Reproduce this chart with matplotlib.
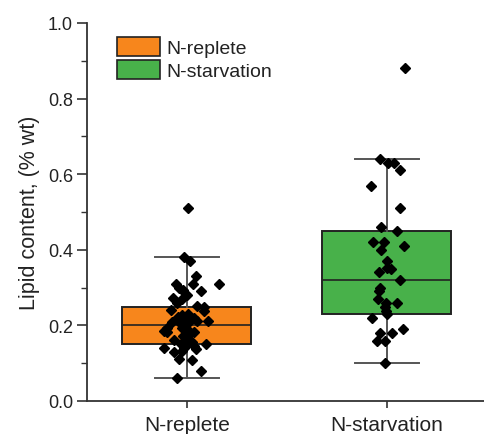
import numpy as np
import matplotlib.pyplot as plt
from matplotlib.patches import Patch

plt.rcParams['font.family'] = ['Liberation Sans', 'DejaVu Sans']

categories = ['N-replete', 'N-starvation']
box_colors = ['#f7861c', '#48b14a']

# box statistics
q1 = [0.15, 0.23]
median = [0.20, 0.32]
q3 = [0.25, 0.45]
whisk_lo = [0.06, 0.10]
whisk_hi = [0.38, 0.64]

# individual measurements (value, horizontal jitter in category units)
replete_vals = [0.51, 0.38, 0.37, 0.33, 0.31, 0.31, 0.31, 0.30, 0.29, 0.29,
                0.294, 0.272, 0.28, 0.26, 0.27, 0.252, 0.25, 0.239, 0.24, 0.228,
                0.23, 0.222, 0.219, 0.211, 0.21, 0.21, 0.211, 0.205, 0.208, 0.192,
                0.186, 0.182, 0.192, 0.19, 0.182, 0.173, 0.177, 0.161, 0.162, 0.157,
                0.151, 0.151, 0.146, 0.145, 0.139, 0.13, 0.133, 0.138, 0.139, 0.111,
                0.109, 0.08, 0.06]
replete_jit = [0.005, -0.016, 0.016, 0.043, -0.056, 0.032, 0.159, -0.04, -0.02, 0.07,
               -0.018, -0.07, 0.0, -0.048, -0.023, 0.052, 0.083, 0.083, -0.078, -0.023,
               0.005, -0.045, 0.035, 0.048, -0.075, 0.01, 0.107, -0.032, -0.01, -0.098,
               -0.115, -0.098, -0.023, 0.0, 0.035, -0.022, 0.01, -0.065, 0.0, 0.025,
               0.093, -0.032, -0.01, 0.035, -0.115, -0.065, -0.023, 0.043, -0.015, -0.04,
               0.025, 0.068, -0.048]

starv_vals = [0.88, 0.64, 0.63, 0.63, 0.61, 0.57, 0.51, 0.46, 0.45, 0.42,
              0.42, 0.41, 0.40, 0.37, 0.352, 0.349, 0.34, 0.32, 0.30, 0.29,
              0.27, 0.26, 0.26, 0.25, 0.239, 0.229, 0.22, 0.19, 0.18, 0.18,
              0.16, 0.16, 0.10]
starv_jit = [0.092, -0.037, 0.003, 0.037, 0.067, -0.082, 0.063, -0.03, 0.052, -0.068,
             -0.013, 0.085, -0.028, -0.002, -0.002, 0.02, -0.04, 0.063, -0.033, -0.04,
             -0.043, -0.007, 0.05, -0.01, -0.007, 0.002, -0.073, 0.082, -0.037, 0.027,
             -0.048, -0.012, -0.008]

points = [replete_vals, starv_vals]
jitters = [replete_jit, starv_jit]

fig = plt.figure(figsize=(4.85, 4.35), dpi=100)
ax = fig.add_axes([87 / 485, 33 / 435, 400 / 485, 378 / 435])

stats = []
for i in range(len(categories)):
    stats.append({'q1': q1[i], 'med': median[i], 'q3': q3[i],
                  'whislo': whisk_lo[i], 'whishi': whisk_hi[i], 'fliers': []})

bp = ax.bxp(stats, positions=[0, 1], widths=0.645, capwidths=0.32,
            patch_artist=True, manage_ticks=False,
            boxprops=dict(edgecolor='#222222', linewidth=1.4),
            medianprops=dict(color='#222222', linewidth=1.2),
            whiskerprops=dict(color='#555555', linewidth=1.4),
            capprops=dict(color='#555555', linewidth=1.4))
for patch, c in zip(bp['boxes'], box_colors):
    patch.set_facecolor(c)

for i in range(len(categories)):
    xs = i + np.array(jitters[i])
    ax.plot(xs, points[i], 'D', color='black', markersize=4.8, zorder=5)

ax.set_xlim(-0.5, 1.5)
ax.set_ylim(0, 1.0)
ax.set_xticks([0, 1])
ax.set_xticklabels(categories, fontsize=15, color='#222222')
ax.set_yticks(np.arange(0, 1.01, 0.2))
ax.set_yticklabels(['%.1f' % v for v in np.arange(0, 1.01, 0.2)], fontsize=13, color='#222222')
ax.set_yticks(np.arange(0.1, 1.0, 0.2), minor=True)
ax.tick_params(axis='y', which='major', length=7, width=1.2, color='#333333', pad=3)
ax.tick_params(axis='y', which='minor', length=4, width=1.0, color='#333333')
ax.tick_params(axis='x', length=5, width=1.2, color='#333333', pad=5)
ax.set_ylabel('Lipid content, (% wt)', fontsize=15.5, color='#222222', labelpad=6)

for s in ['top', 'right']:
    ax.spines[s].set_visible(False)
for s in ['left', 'bottom']:
    ax.spines[s].set_color('#333333')
    ax.spines[s].set_linewidth(1.3)

handles = [Patch(facecolor=c, edgecolor='#222222', linewidth=1.2) for c in box_colors]
ax.legend(handles, categories, loc='upper left', frameon=False, fontsize=14,
          bbox_to_anchor=(117 / 485, 1 - 38 / 435), bbox_transform=fig.transFigure,
          borderaxespad=0, borderpad=0, handlelength=2.2, handleheight=1.1,
          handletextpad=0.35, labelspacing=0.15, labelcolor='#222222')

fig.savefig('out.png', dpi=100)
